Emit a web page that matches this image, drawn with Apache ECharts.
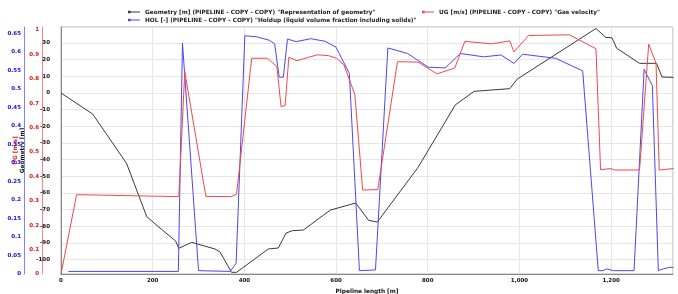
<!DOCTYPE html>
<html>
<head>
<meta charset="utf-8">
<script src="https://cdn.jsdelivr.net/npm/echarts@6/dist/echarts.min.js"></script>
<style>
  html, body { margin: 0; padding: 0; background: #fff; }
  #chart { width: 678px; height: 294px; }
</style>
</head>
<body>
<div id="chart"></div>
<script>
// pipeline length [m] / value pairs
var geomX = [0, 69, 143, 187, 227, 250, 257, 285, 336, 347, 372, 383, 452, 474, 491, 505, 529, 561, 588, 643, 671, 690, 779, 860, 901, 979, 995, 1167, 1188, 1202, 1212, 1262, 1299, 1311, 1336];
var geomY = [0, -12.6, -42.2, -74.2, -83.6, -88.8, -93.2, -89.6, -93.6, -95.4, -107.6, -107.6, -93.6, -93, -84, -82.6, -82.2, -75.6, -70.2, -66, -76.4, -77.4, -44.6, -7.2, 1, 2.6, 8.3, 38.7, 33.4, 33.1, 26.9, 17.8, 17.8, 9.6, 9.4];

var ugX = [0, 34, 257, 270, 316, 372, 383, 416, 450, 471, 480, 489, 497, 515, 559, 583, 601, 617, 641, 658, 691, 734, 779, 820, 859, 881, 940, 979, 988, 1020, 1109, 1167, 1177, 1198, 1208, 1262, 1282, 1298, 1305, 1336];
var ugY = [0, 0.325, 0.317, 0.829, 0.318, 0.317, 0.328, 0.884, 0.884, 0.85, 0.686, 0.69, 0.888, 0.874, 0.898, 0.895, 0.884, 0.858, 0.735, 0.344, 0.346, 0.87, 0.868, 0.82, 0.844, 0.953, 0.943, 0.955, 0.91, 0.977, 0.98, 0.923, 0.427, 0.432, 0.426, 0.426, 0.942, 0.863, 0.426, 0.432];

var holX = [16, 256, 265, 300, 369, 382, 401, 427, 454, 466, 476, 485, 494, 513, 545, 576, 600, 629, 651, 686, 713, 756, 801, 838, 871, 922, 960, 988, 1007, 1079, 1138, 1172, 1182, 1190, 1205, 1250, 1272, 1290, 1303, 1314, 1328, 1336];
var holY = [0.007, 0.007, 0.624, 0.009, 0.007, 0.029, 0.644, 0.641, 0.632, 0.622, 0.532, 0.532, 0.635, 0.628, 0.636, 0.629, 0.613, 0.542, 0.009, 0.011, 0.611, 0.596, 0.559, 0.557, 0.596, 0.587, 0.592, 0.569, 0.594, 0.583, 0.549, 0.009, 0.009, 0.014, 0.009, 0.009, 0.553, 0.509, 0.009, 0.014, 0.018, 0.018];

var nameGeom = 'Geometry [m] (PIPELINE - COPY - COPY) "Representation of geometry"';
var nameHol = 'HOL [-] (PIPELINE - COPY - COPY) "Holdup (liquid volume fraction including solids)"';
var nameUg = 'UG [m/s] (PIPELINE - COPY - COPY) "Gas velocity"';

function pairs(xs, ys){
    return xs.map(function(x, i){ return [x, ys[i]]; });
}

var FONT = 'DejaVu Sans';
var chart = echarts.init(document.getElementById('chart'), null, {renderer: 'canvas'});
var legendIcon = 'path://M0,2h3v3h-3zM3,3h11v1h-11z';
var legendText = {fontFamily: FONT, fontSize: 5.8, fontWeight: 'bold', color: '#222', lineHeight: 8};
var tickFont = {fontFamily: FONT, fontSize: 5.5, fontWeight: 'bold'};

var option = {
    animation: false,
    textStyle: {fontFamily: FONT},
    legend: [
        {
            orient: 'vertical', left: 128, top: 8, itemGap: 0,
            itemWidth: 12, itemHeight: 5, icon: legendIcon,
            textStyle: legendText, padding: 0,
            data: [nameGeom, nameHol]
        },
        {
            orient: 'vertical', left: 422, top: 8, itemGap: 0,
            itemWidth: 12, itemHeight: 5, icon: legendIcon,
            textStyle: legendText, padding: 0,
            data: [nameUg]
        }
    ],
    grid: {
        left: 61, right: 5, top: 27, bottom: 20,
        outerBoundsMode: 'none',
        show: true, borderColor: '#b0b0b0', borderWidth: 1
    },
    xAxis: {
        type: 'value',
        min: 0, max: 1335, interval: 200,
        name: 'Pipeline length [m]',
        nameLocation: 'middle', nameGap: 10,
        nameTextStyle: {fontFamily: FONT, fontSize: 5.8, fontWeight: 'bold', color: '#111'},
        axisLine: {onZero: false, lineStyle: {color: '#888'}},
        axisTick: {show: false},
        axisLabel: Object.assign({}, tickFont, {
            color: '#111', margin: 4,
            showMaxLabel: false,
            formatter: function(v){ return v.toLocaleString('en-US'); }
        }),
        splitLine: {show: true, lineStyle: {color: '#e6e6e6'}}
    },
    yAxis: [
        {
            type: 'value', position: 'left', offset: 0,
            min: -108.6, max: 39.6, minInterval: 10, maxInterval: 10,
            name: 'Geometry [m]', nameLocation: 'middle', nameGap: 15, nameRotate: 90,
            nameTextStyle: {fontFamily: FONT, fontSize: 5.8, fontWeight: 'bold', color: '#111'},
            axisLine: {show: true, onZero: false, lineStyle: {color: '#888'}},
            axisTick: {show: false},
            axisLabel: Object.assign({}, tickFont, {color: '#111', margin: 11,
                showMinLabel: false, showMaxLabel: false}),
            splitLine: {show: true, lineStyle: {color: '#e6e6e6'}}
        },
        {
            type: 'value', position: 'left', offset: 19,
            min: 0, max: 1.012, minInterval: 0.1, maxInterval: 0.1,
            name: 'UG [m/s]', nameLocation: 'middle', nameGap: 15, nameRotate: 90,
            nameTextStyle: {fontFamily: FONT, fontSize: 5.8, fontWeight: 'bold', color: '#e02020'},
            axisLine: {show: true, onZero: false, lineStyle: {color: '#ff8080'}},
            axisTick: {show: false},
            axisLabel: Object.assign({}, tickFont, {color: '#e01010', margin: 3,
                showMaxLabel: false}),
            splitLine: {show: false}
        },
        {
            type: 'value', position: 'left', offset: 37,
            min: 0, max: 0.6676, minInterval: 0.05, maxInterval: 0.05,
            name: 'HOL [-]', nameLocation: 'middle', nameGap: 15, nameRotate: 90,
            nameTextStyle: {fontFamily: FONT, fontSize: 5.8, fontWeight: 'bold', color: '#1010e0'},
            axisLine: {show: true, onZero: false, lineStyle: {color: '#8080ff'}},
            axisTick: {show: false},
            axisLabel: Object.assign({}, tickFont, {color: '#1010e0', margin: 3,
                showMaxLabel: false}),
            splitLine: {show: false}
        }
    ],
    series: [
        {
            name: nameGeom, type: 'line', yAxisIndex: 0,
            data: pairs(geomX, geomY),
            showSymbol: false, color: '#3a3a3a',
            lineStyle: {width: 1, color: '#3a3a3a'}
        },
        {
            name: nameHol, type: 'line', yAxisIndex: 2,
            data: pairs(holX, holY),
            showSymbol: false, color: '#4848f0',
            lineStyle: {width: 1, color: '#4848f0'}
        },
        {
            name: nameUg, type: 'line', yAxisIndex: 1,
            data: pairs(ugX, ugY),
            showSymbol: false, color: '#f04848',
            lineStyle: {width: 1, color: '#f04848'}
        }
    ]
};
chart.setOption(option);
</script>
</body>
</html>
